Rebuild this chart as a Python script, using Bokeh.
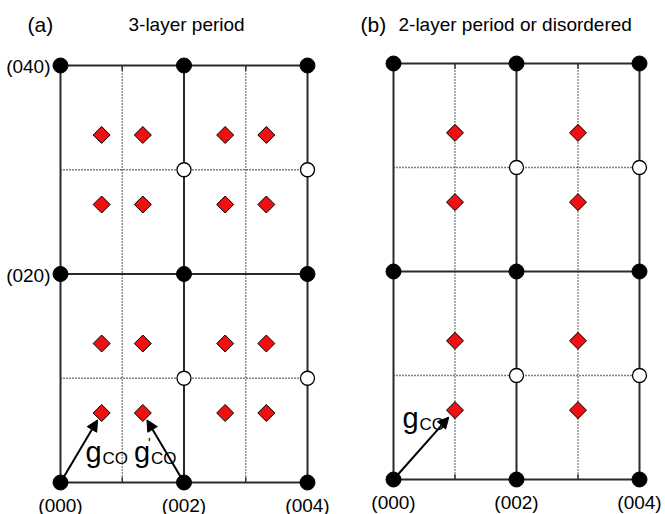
import numpy as np
from bokeh.plotting import figure
from bokeh.layouts import row
from bokeh.models import Range1d, Arrow, NormalHead, Label, ColumnDataSource
from bokeh.embed import file_html
from bokeh.resources import INLINE
from bokeh.core.properties import value

# Reciprocal lattice in units of (00l) along x and (0k0) along y
fund_l = [0, 2, 4]            # fundamental rows (solid lines, filled spots)
fund_k = [0, 2, 4]
half_l = [1, 3]               # dotted guide lines
half_k = [1, 3]
open_l = [2, 4]               # open (extinct) spots
open_k = [1, 3]

# superlattice (CO) reflections
sup_a_l = [2 / 3, 4 / 3, 8 / 3, 10 / 3]
sup_a_k = [2 / 3, 4 / 3, 8 / 3, 10 / 3]
sup_b_l = [1, 3]
sup_b_k = [2 / 3, 4 / 3, 8 / 3, 10 / 3]

# CO wave vectors: (start l, start k, end l, end k)
vec_a = [(0, 0, 2 / 3, 2 / 3), (2, 0, 4 / 3, 2 / 3)]
vec_b = [(0, 0, 1, 2 / 3)]

bottom_labels = ["(000)", "(002)", "(004)"]
left_labels = ["(020)", "(040)"]
left_label_k = [2, 4]

FONT = "Liberation Sans"
H = 514


def make_panel(width, x0, y0, px_l, px_k):
    p = figure(width=width, height=H, output_backend="svg", toolbar_location=None,
               title=None, x_axis_location=None, y_axis_location=None,
               min_border=0, outline_line_color=None,
               x_range=Range1d(-x0 / px_l, (width - x0) / px_l),
               y_range=Range1d((y0 - H) / px_k, y0 / px_k))
    p.xgrid.visible = False
    p.ygrid.visible = False
    p.background_fill_color = "white"
    p.border_fill_color = "white"

    kmax = max(fund_k)
    lmax = max(fund_l)
    # dotted guide lines
    p.segment(x0=half_l, y0=[0] * len(half_l), x1=half_l, y1=[kmax] * len(half_l),
              line_color="black", line_width=1.3, line_dash="1 2")
    p.segment(x0=[0] * len(half_k), y0=half_k, x1=[lmax] * len(half_k), y1=half_k,
              line_color="black", line_width=1.3, line_dash="1 2")
    # short solid ticks where dotted lines meet the frame
    t = 0.05
    p.segment(x0=half_l * 2, y0=[0] * 2 + [kmax] * 2, x1=half_l * 2,
              y1=[t] * 2 + [kmax - t] * 2, line_color="#333333", line_width=1.5)
    # solid lattice lines
    p.segment(x0=fund_l, y0=[0] * 3, x1=fund_l, y1=[kmax] * 3,
              line_color="#2a2a2a", line_width=2)
    p.segment(x0=[0] * 3, y0=fund_k, x1=[lmax] * 3, y1=fund_k,
              line_color="#2a2a2a", line_width=2)
    return p


def add_spots(p, sup_l, sup_k, vecs):
    ol, ok = np.meshgrid(open_l, open_k)
    p.scatter(ol.ravel(), ok.ravel(), size=14, fill_color="white",
              line_color="black", line_width=1.3)
    fl, fk = np.meshgrid(fund_l, fund_k)
    p.scatter(fl.ravel(), fk.ravel(), size=15, fill_color="black", line_color="black")
    sl, sk = np.meshgrid(sup_l, sup_k)
    p.scatter(sl.ravel(), sk.ravel(), marker="square", angle=np.pi / 4, size=12,
              fill_color="#ee1111", line_color="black", line_width=1)
    v = np.array(vecs, dtype=float)
    frac = 0.9
    src = ColumnDataSource(dict(
        xs=v[:, 0], ys=v[:, 1],
        xe=v[:, 0] + frac * (v[:, 2] - v[:, 0]),
        ye=v[:, 1] + frac * (v[:, 3] - v[:, 1])))
    p.add_layout(Arrow(end=NormalHead(size=11, fill_color="black", line_color="black",
                                      line_width=1),
                       x_start="xs", y_start="ys", x_end="xe", y_end="ye",
                       source=src, line_width=2, line_color="black"))


def txt(p, x, y, s, size, dx=0, dy=0, align="left", baseline="alphabetic"):
    p.text(x=[x], y=[y], text=[s], x_offset=dx, y_offset=dy,
           text_font=value(FONT), text_font_size=size, text_color="black",
           text_align=align, text_baseline=baseline)


def title(p, x, s, size="19px"):
    p.add_layout(Label(x=x, y=H - 24, x_units="screen", y_units="screen", text=s,
                       text_font=FONT, text_font_size=size, text_color="black",
                       text_baseline="alphabetic"))


def g_label(p, l, k, dx, dy, prime=False):
    txt(p, l, k, "g", "29px", dx, dy)
    txt(p, l, k, "CO", "17px", dx + 17, dy + 7)
    if prime:
        txt(p, l, k, "'", "14px", dx + 14, dy - 9)


# ---- panel (a): 3-layer period
pa = make_panel(333, 60, 482, 61.75, 104.25)
add_spots(pa, sup_a_l, sup_a_k, vec_a)
for l, s in zip(fund_l, bottom_labels):
    txt(pa, l, 0, s, "19px", 0, 12, "center", "top")
for k, s in zip(left_label_k, left_labels):
    txt(pa, 0, k, s, "19px", -10, 1, "right", "middle")
g_label(pa, 0, 0, 25, -31)
g_label(pa, 2, 0, -50, -31, prime=True)
title(pa, 27, "(a)", "21px")
title(pa, 128, "3-layer period")

# ---- panel (b): 2-layer period or disordered
pb = make_panel(332, 60, 479, 61.5, 104.0)
add_spots(pb, sup_b_l, sup_b_k, vec_b)
for l, s in zip(fund_l, bottom_labels):
    txt(pb, l, 0, s, "19px", 0, 12, "center", "top")
g_label(pb, 0, 0, 9, -62)
title(pb, 27, "(b)", "21px")
title(pb, 65, "2-layer period or disordered")

layout = row(pa, pb, spacing=0)
open("out.html", "w").write(file_html(layout, INLINE))
